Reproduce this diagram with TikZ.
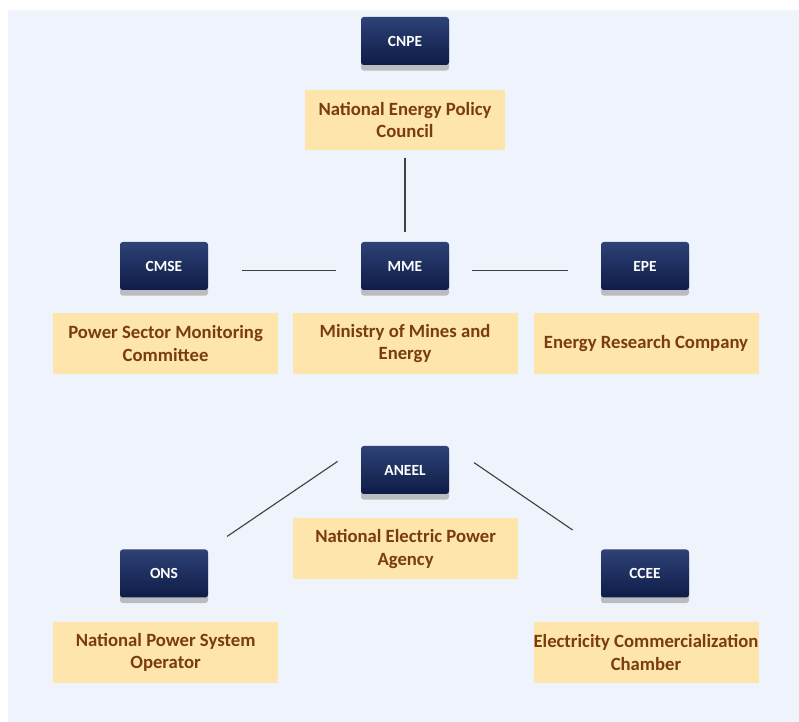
\documentclass[tikz,border=0pt]{standalone}
\usepackage{fontspec}
\setmainfont{Carlito}
\usepackage{tikz}
\usetikzlibrary{shadows}
\usepackage{xcolor}
\definecolor{panelbg}{HTML}{EFF3FC}
\definecolor{navytop}{HTML}{2E4277}
\definecolor{navybot}{HTML}{0E1C46}
\definecolor{labelfill}{HTML}{FDE5AB}
\definecolor{labeltext}{HTML}{7A3B10}
\colorlet{linkgray}{black!75}

\begin{document}
\begin{tikzpicture}[link/.style={thick,linkgray},
    abbr/.style={minimum width=2.2cm,minimum height=1.2cm,rounded corners=2,
      top color=navytop,bottom color=navybot,text=white,font=\bfseries\fontsize{11}{13}\selectfont,
      drop shadow={shadow xshift=0,shadow yshift=-0.14cm,fill=black!35,opacity=0.7}},
    desc/.style={fill=labelfill,text=labeltext,font=\bfseries\fontsize{13.3}{15.8}\selectfont,align=center,
      minimum width=5.625cm,minimum height=1.525cm,inner sep=0pt}]
    \message{Brazilian power sector^^J}

    \useasboundingbox (0,0) rectangle (19.975,18.05);
    \fill[panelbg] (0.2,0) rectangle (19.975,17.8);

    \node[abbr] (CNPE) at (10.125,17.025) {CNPE};
    \node[desc,minimum width=5cm,minimum height=1.5cm] (CNPEd) at (10.125,15.05) {National Energy Policy\\Council};

    \node[abbr] (CMSE) at (4.1,11.4) {CMSE};
    \node[abbr] (MME) at (10.125,11.4) {MME};
    \node[abbr] (EPE) at (16.125,11.4) {EPE};
    \node[desc] (CMSEd) at (4.14,9.4625) {Power Sector Monitoring\\Committee};
    \node[desc] (MMEd) at (10.125,9.4625) {Ministry of Mines and\\Energy};
    \node[desc] (EPEd) at (16.15,9.4625) {Energy Research Company};

    \node[abbr] (ANEEL) at (10.125,6.3) {ANEEL};
    \node[desc] (ANEELd) at (10.14,4.325) {National Electric Power\\Agency};

    \node[abbr] (ONS) at (4.1,3.7125) {ONS};
    \node[abbr] (CCEE) at (16.125,3.7125) {CCEE};
    \node[desc] (ONSd) at (4.14,1.7375) {National Power System\\Operator};
    \node[desc] (CCEEd) at (16.15,1.7375) {Electricity Commercialization\\Chamber};

    \draw[link,shorten <=0.2cm,shorten >=0.25cm] (CNPEd.south) -- (MME.north);
    \draw[link,shorten <=0.85cm,shorten >=0.62cm] ([yshift=-0.12cm]CMSE.east) -- ([yshift=-0.12cm]MME.west);
    \draw[link,shorten <=0.57cm,shorten >=0.82cm] ([yshift=-0.12cm]MME.east) -- ([yshift=-0.12cm]EPE.west);

    \draw[link,shorten <=0.7cm,shorten >=0.57cm] (ANEEL.north west) -- (ONS.north east);
    \draw[link,shorten <=0.75cm,shorten >=0.85cm] (ANEEL.north east) -- (CCEE.north west);

    \end{tikzpicture}
\end{document}
